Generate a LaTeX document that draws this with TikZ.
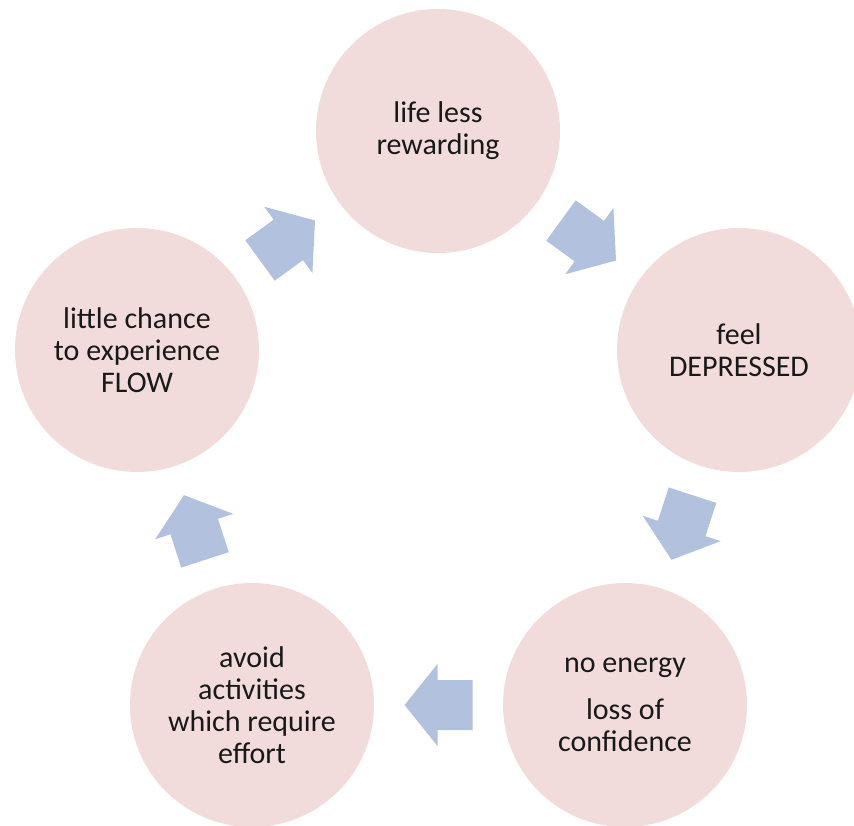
\documentclass[tikz,border=0pt]{standalone}
\usepackage{fontspec}
\setmainfont{Carlito}
\usetikzlibrary{calc}
\definecolor{circfill}{RGB}{242,220,219}
\definecolor{arrfill}{RGB}{178,194,222}
\begin{document}
\begin{tikzpicture}[x=1pt,y=-1pt,
  stage/.style={circle, fill=circfill, minimum size=244pt, inner sep=0pt, align=center,
    font=\fontsize{30}{32}\selectfont, text=black!90},
  flowarrow/.style={fill=arrfill, draw=none}]
\useasboundingbox (0,0) rectangle (854,826);
\node[stage] (top) at (438,131) {life less\\rewarding};
\node[stage] (right) at (739,350) {feel\\DEPRESSED};
\node[stage] (br) at (625,705) {no energy\\[15pt]loss of\\confidence};
\node[stage] (bl) at (252,705) {avoid\\activities\\which require\\effort};
\node[stage] (left) at (137,350) {little chance\\to experience\\FLOW};
\coordinate (m1) at ($(top)!0.5!(right)$);
\coordinate (m2) at ($(right)!0.5!(br)$);
\coordinate (m3) at ($(br)!0.5!(bl)$);
\coordinate (m4) at ($(bl)!0.5!(left)$);
\coordinate (m5) at ($(left)!0.5!(top)$);
\foreach \m/\a in {m1/-36, m2/-108, m3/180, m4/108, m5/36}{
  \begin{scope}[shift={(\m)}, rotate=\a]
    \fill[flowarrow] (-34,-25) -- (1,-25) -- (1,-41) -- (34,0) -- (1,41) -- (1,25) -- (-34,25) -- cycle;
  \end{scope}
}
\end{tikzpicture}
\end{document}
